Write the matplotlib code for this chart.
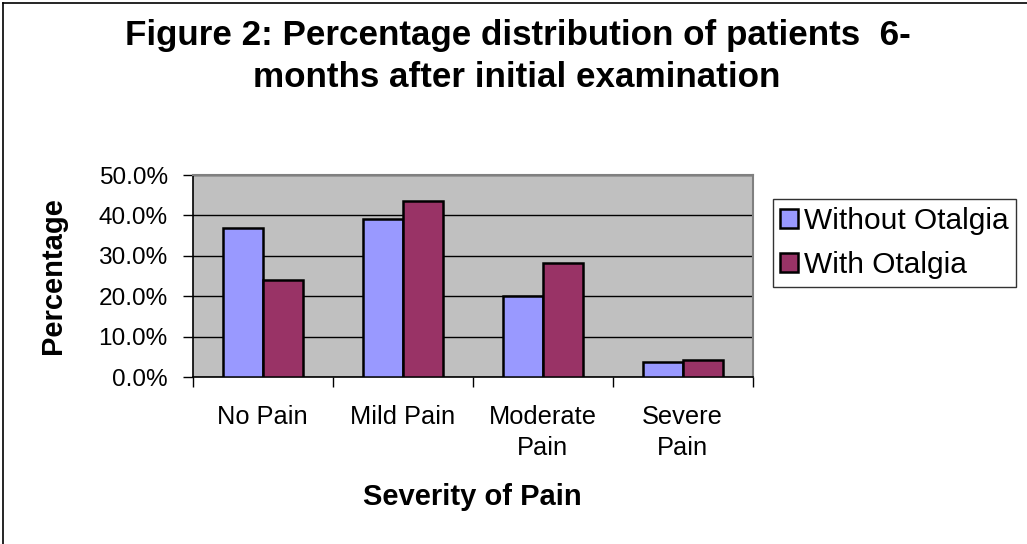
import numpy as np
import matplotlib.pyplot as plt
from matplotlib.lines import Line2D
from matplotlib.ticker import FuncFormatter

plt.rcParams['font.family'] = ['Liberation Sans', 'DejaVu Sans']

# data
categories = ['No Pain', 'Mild Pain', 'Moderate\nPain', 'Severe\nPain']
without_otalgia = [36.8, 39.1, 20.1, 3.6]
with_otalgia = [23.9, 43.6, 28.3, 4.3]
series_names = ['Without Otalgia', 'With Otalgia']
series_colors = ['#9999FF', '#993366']

W, H = 1027, 544
fig = plt.figure(figsize=(W / 100, H / 100), dpi=100)
fig.patch.set_facecolor('white')

def fx(px):
    return px / W

def fy(py):
    return 1 - py / H

# outer chart border (right and bottom sides are cut off in the original)
for xs, ys in [((3, 3), (3, 544)), ((3, 1027), (3, 3))]:
    fig.add_artist(Line2D([fx(v) for v in xs], [fy(v) for v in ys],
                          transform=fig.transFigure, color='black', linewidth=1.2))

ax = fig.add_axes([fx(192.7), fy(377), 560 / W, 202 / H])
ax.set_facecolor('#C0C0C0')

x = np.arange(len(categories))
bw = 40 / 140
ax.bar(x - bw / 2, without_otalgia, bw, color=series_colors[0], edgecolor='black',
       linewidth=1.8, label=series_names[0], zorder=3)
ax.bar(x + bw / 2, with_otalgia, bw, color=series_colors[1], edgecolor='black',
       linewidth=1.8, label=series_names[1], zorder=3)

ax.set_xlim(-0.5, len(categories) - 0.5)
ax.set_ylim(0, 50)
ax.set_yticks(np.arange(0, 51, 10))
ax.yaxis.set_major_formatter(FuncFormatter(lambda v, p: f'{v:.1f}%'))
ax.yaxis.grid(True, color='black', linewidth=1, zorder=1)
ax.set_axisbelow(True)

ax.set_xticks(np.arange(-0.5, len(categories), 1))
ax.set_xticklabels([])
ax.set_xticks(x, minor=True)
ax.set_xticklabels(categories, minor=True, fontsize=18.3, linespacing=1.4)
ax.tick_params(axis='x', which='minor', length=0, pad=20)
ax.tick_params(axis='x', which='major', length=7, width=1, direction='out')
ax.tick_params(axis='y', length=7, width=1, labelsize=17.6, pad=11)

for s in ['top', 'right']:
    ax.spines[s].set_color('#808080')
    ax.spines[s].set_linewidth(1.5)
for s in ['left', 'bottom']:
    ax.spines[s].set_color('black')
    ax.spines[s].set_linewidth(1.2)

fig.text(fx(53), fy(276), 'Percentage', rotation=90, ha='center', va='center',
         fontsize=21, fontweight='bold')
fig.text(fx(472), fy(497), 'Severity of Pain', ha='center', va='center',
         fontsize=21, fontweight='bold')

fig.text(fx(518), fy(45), 'Figure 2: Percentage distribution of patients  6-',
         ha='center', va='baseline', fontsize=25.2, fontweight='bold')
fig.text(fx(516.5), fy(87), 'months after initial examination',
         ha='center', va='baseline', fontsize=25.2, fontweight='bold')

leg = ax.legend(loc='upper left', bbox_to_anchor=(fx(772.7), fy(199.3)),
                bbox_transform=fig.transFigure, fontsize=21.5, frameon=True, fancybox=False,
                handlelength=0.6, handleheight=0.6, handletextpad=0.2,
                borderpad=0.25, labelspacing=0.55, borderaxespad=0)
leg.get_frame().set_edgecolor('black')
leg.get_frame().set_linewidth(1)
for h in leg.legend_handles:
    h.set_linewidth(1.8)

fig.savefig('out.png', dpi=100, facecolor='white')
